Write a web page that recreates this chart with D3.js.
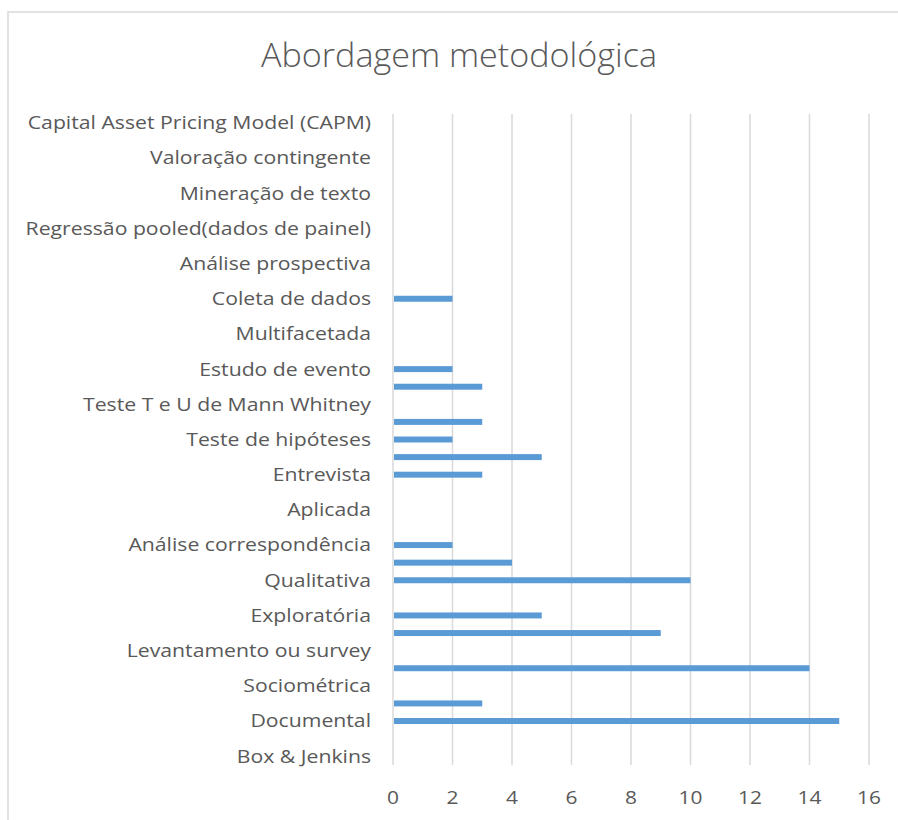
<!DOCTYPE html>
<head>
    <meta charset="UTF-8">
    <title>Abordagem metodológica</title>
</head>
<style>
    body {
        margin: 0;
        background: #fff;
    }

    text {
        font-family: "Open Sans", Lato, sans-serif;
        fill: #595959;
    }

    .grid line {
        stroke: #d9d9d9;
        stroke-width: 1.5;
    }

    .bar {
        fill: #5b9bd5;
    }
</style>
<body>
    <script src="https://cdn.jsdelivr.net/npm/d3@7"></script>
    <script>
        // categorias de cima para baixo; null = rótulo que o Excel omitiu (não legível)
        var categories = [
            "Capital Asset Pricing Model (CAPM)", null,
            "Valoração contingente", null,
            "Mineração de texto", null,
            "Regressão pooled(dados de painel)", null,
            "Análise prospectiva", null,
            "Coleta de dados", null,
            "Multifacetada", null,
            "Estudo de evento", null,
            "Teste T e U de Mann Whitney", null,
            "Teste de hipóteses", null,
            "Entrevista", null,
            "Aplicada", null,
            "Análise correspondência", null,
            "Qualitativa", null,
            "Exploratória", null,
            "Levantamento ou survey", null,
            "Sociométrica", null,
            "Documental", null,
            "Box & Jenkins"
        ];

        var values = [
            0, 0,
            0, 0,
            0, 0,
            0, 0,
            0, 0,
            2, 0,
            0, 0,
            2, 3,
            0, 3,
            2, 5,
            3, 0,
            0, 0,
            2, 4,
            10, 0,
            5, 9,
            0, 14,
            0, 3,
            15, 0,
            0
        ];

        var xTicks = [0, 2, 4, 6, 8, 10, 12, 14, 16];

        var width = 898, height = 820;
        var plot = { left: 393, right: 869, top: 114, bottom: 765 };

        var svg = d3.select("body").append("svg")
            .attr("width", width)
            .attr("height", height);

        // moldura do gráfico
        svg.append("rect")
            .attr("x", 8)
            .attr("y", 12)
            .attr("width", width + 20)
            .attr("height", height + 20)
            .attr("fill", "none")
            .attr("stroke", "#d9d9d9")
            .attr("stroke-width", 1.5);

        // fonte Calibri não disponível: esticar um pouco na horizontal
        svg.append("text")
            .attr("transform", "translate(459,67) scale(1.05,1)")
            .attr("text-anchor", "middle")
            .style("font-size", "32.5px")
            .style("font-weight", 300)
            .text("Abordagem metodológica");

        var x = d3.scaleLinear()
            .domain([0, 16])
            .range([plot.left, plot.right]);

        var y = d3.scaleBand()
            .domain(d3.range(categories.length))
            .range([plot.top, plot.bottom])
            .paddingInner(0.66)
            .paddingOuter(0.33);

        svg.append("g")
            .attr("class", "grid")
            .selectAll("line")
            .data(xTicks)
            .enter().append("line")
            .attr("x1", function(d) { return x(d); })
            .attr("x2", function(d) { return x(d); })
            .attr("y1", plot.top)
            .attr("y2", plot.bottom);

        svg.append("g")
            .selectAll("text")
            .data(xTicks)
            .enter().append("text")
            .attr("transform", function(d) { return "translate(" + x(d) + ",804) scale(1.1,1)"; })
            .attr("text-anchor", "middle")
            .style("font-size", "19px")
            .text(function(d) { return d; });

        svg.append("g")
            .attr("transform", "translate(371,0) scale(1.16,1)")
            .selectAll("text")
            .data(categories.map(function(c, i) { return { name: c, i: i }; })
                .filter(function(d) { return d.name; }))
            .enter().append("text")
            .attr("x", 0)
            .attr("y", function(d) { return y(d.i) + y.bandwidth() / 2; })
            .attr("dy", "0.35em")
            .attr("text-anchor", "end")
            .style("font-size", "18.3px")
            .text(function(d) { return d.name; });

        svg.append("g")
            .selectAll("rect")
            .data(values.map(function(v, i) { return { v: v, i: i }; }))
            .enter().append("rect")
            .attr("class", "bar")
            .attr("x", x(0) + 1)
            .attr("y", function(d) { return y(d.i); })
            .attr("width", function(d) { return Math.max(0, x(d.v) - x(0) - 1); })
            .attr("height", y.bandwidth());
    </script>
</body>
</html>
